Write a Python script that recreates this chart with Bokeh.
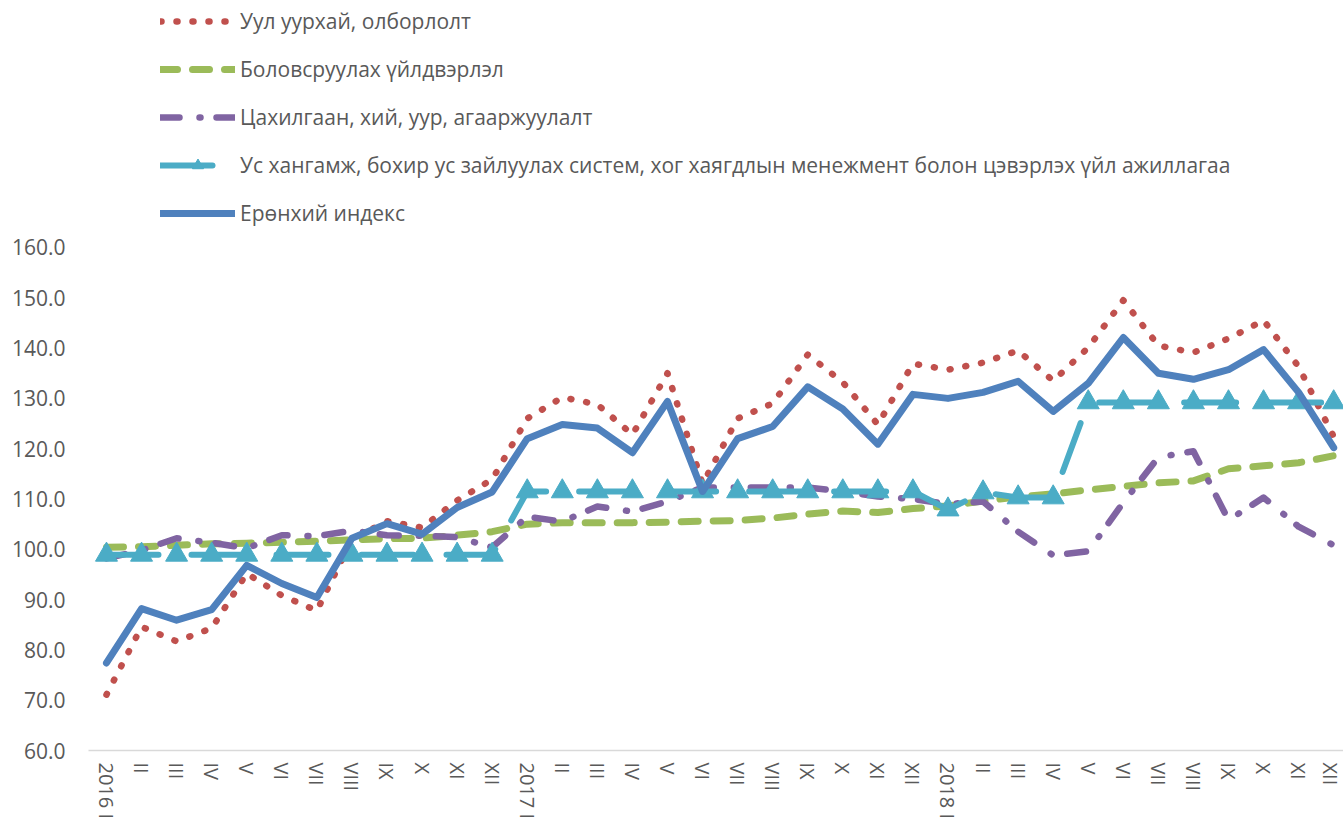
from bokeh.plotting import figure
from bokeh.models import (ColumnDataSource, FixedTicker, PrintfTickFormatter,
                          Legend, LegendItem, Range1d)
from bokeh.embed import file_html
from bokeh.resources import INLINE

# ---------------- data ----------------
months = ["I", "II", "III", "IV", "V", "VI", "VII", "VIII", "IX", "X", "XI", "XII"]
years = ["2016", "2017", "2018"]
tick_labels = [f"{y} {m}" if m == "I" else m for y in years for m in months]

mining = [71.1, 84.6, 81.7, 84.3, 95.2, 90.8, 87.8, 102.0, 105.6, 104.3, 109.7, 113.9,
          126.0, 130.2, 128.8, 122.8, 135.0, 113.0, 126.0, 129.0, 138.7, 133.2, 124.8, 136.9,
          135.7, 137.1, 139.5, 133.5, 140.1, 149.5, 140.5, 139.1, 141.9, 145.5, 136.3, 122.4]

manufacturing = [100.4, 100.5, 100.8, 101.1, 101.2, 101.4, 101.6, 101.9, 102.1, 102.2, 102.8, 103.5,
                 105.0, 105.3, 105.3, 105.3, 105.4, 105.6, 105.7, 106.2, 107.0, 107.6, 107.3, 108.1,
                 108.6, 109.6, 110.4, 111.0, 111.8, 112.5, 113.2, 113.6, 116.0, 116.6, 117.2, 118.6]

electricity = [98.2, 99.8, 102.2, 101.3, 100.2, 102.8, 102.6, 103.7, 102.8, 102.7, 102.4, 100.4,
               106.5, 105.5, 108.5, 107.5, 109.5, 112.3, 112.3, 112.3, 112.3, 111.5, 110.5, 110.0,
               109.0, 109.5, 103.5, 98.8, 99.6, 109.3, 118.3, 119.5, 105.8, 110.3, 104.5, 100.8]

water = [98.9] * 12 + [111.5] * 12 + [107.9, 111.3, 110.3, 110.3] + [129.2] * 8

total = [77.4, 88.2, 85.9, 88.0, 96.8, 93.2, 90.4, 102.2, 105.1, 103.0, 108.3, 111.4,
         122.0, 124.8, 124.1, 119.2, 129.4, 111.5, 122.0, 124.4, 132.3, 127.9, 120.9, 130.8,
         130.0, 131.2, 133.4, 127.4, 133.0, 142.1, 135.0, 133.8, 135.7, 139.7, 131.2, 120.2]

names = ["Уул уурхай, олборлолт",
         "Боловсруулах үйлдвэрлэл",
         "Цахилгаан, хий, уур, агааржуулалт",
         "Ус хангамж, бохир ус зайлуулах систем, хог хаягдлын менежмент болон цэвэрлэх үйл ажиллагаа",
         "Ерөнхий индекс"]

x = list(range(len(tick_labels)))
src = ColumnDataSource(dict(x=x, mining=mining, manufacturing=manufacturing,
                            electricity=electricity, water=water, total=total))

FONT = "Open Sans"
TXT = "#595959"

p = figure(width=1343, height=826, output_backend="svg", toolbar_location=None,
           x_range=Range1d(-0.513, 35.28), y_range=Range1d(60, 209.1),
           min_border_left=88, min_border_right=0, min_border_top=0, min_border_bottom=76)
p.outline_line_color = None
p.xgrid.visible = False
p.ygrid.visible = False
p.background_fill_color = "white"

r_min = p.line("x", "mining", source=src, line_color="#C0504D", line_width=6.5,
               line_dash="1 15", line_cap="round", line_join="round")
r_man = p.line("x", "manufacturing", source=src, line_color="#9BBB59", line_width=7,
               line_dash="17 15", line_cap="round", line_join="round")
r_ele = p.line("x", "electricity", source=src, line_color="#8064A2", line_width=6.5,
               line_dash="19 20 1 16", line_cap="round", line_join="round")
r_wat = p.line("x", "water", source=src, line_color="#4BACC6", line_width=6,
               line_dash="52 33", line_cap="round", line_join="round")
r_wat_m = p.scatter("x", "water", source=src, marker="triangle", size=22,
                    fill_color="#4BACC6", line_color="#4BACC6", line_width=1)
r_tot = p.line("x", "total", source=src, line_color="#4F81BD", line_width=7,
               line_cap="round", line_join="round")

# axes
xa = p.xaxis[0]
xa.ticker = FixedTicker(ticks=x)
xa.major_label_overrides = {i: lab for i, lab in enumerate(tick_labels)}
xa.major_label_orientation = "vertical"
xa.axis_line_color = "#d9d9d9"
xa.axis_line_width = 1.5
xa.major_tick_line_color = None
xa.major_tick_out = 0
xa.major_tick_in = 0
xa.minor_tick_line_color = None
xa.minor_tick_out = 0
xa.major_label_standoff = 12
xa.major_label_text_font = FONT
xa.major_label_text_font_size = "20px"
xa.major_label_text_color = TXT

ya = p.yaxis[0]
ya.ticker = FixedTicker(ticks=[60, 70, 80, 90, 100, 110, 120, 130, 140, 150, 160])
ya.formatter = PrintfTickFormatter(format="%.1f")
ya.axis_line_color = None
ya.major_tick_line_color = None
ya.major_tick_out = 0
ya.major_tick_in = 0
ya.minor_tick_line_color = None
ya.minor_tick_out = 0
ya.major_label_standoff = 23
ya.major_label_text_font = FONT
ya.major_label_text_font_size = "21px"
ya.major_label_text_color = TXT

legend = Legend(items=[
    LegendItem(label=names[0], renderers=[r_min]),
    LegendItem(label=names[1], renderers=[r_man]),
    LegendItem(label=names[2], renderers=[r_ele]),
    LegendItem(label=names[3], renderers=[r_wat, r_wat_m]),
    LegendItem(label=names[4], renderers=[r_tot]),
], location=(72, 523), glyph_width=75, glyph_height=28, label_height=28,
    spacing=20, padding=0, margin=0, label_standoff=5,
    label_text_font=FONT, label_text_font_size="21px", label_text_color=TXT,
    background_fill_alpha=0, border_line_alpha=0)
p.add_layout(legend, "center")

open("out.html", "w").write(file_html(p, INLINE))
